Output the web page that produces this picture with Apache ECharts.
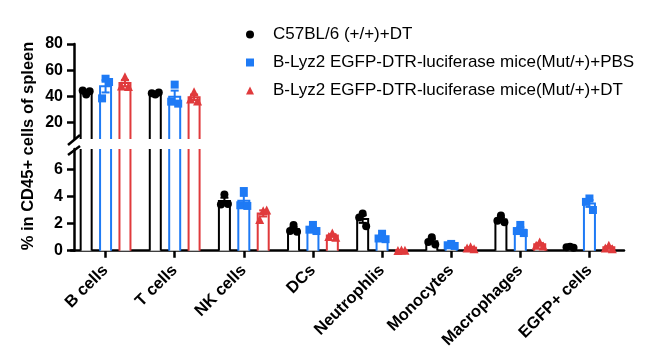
<!DOCTYPE html>
<html><head><meta charset="utf-8">
<script src="https://cdn.jsdelivr.net/npm/echarts@6/dist/echarts.min.js"></script>
<style>html,body{margin:0;padding:0;background:#fff}#c{width:645px;height:360px}</style>
</head><body><div id="c"></div>
<script>
// ---- data ----
const categories = ['B cells', 'T cells', 'NK cells', 'DCs', 'Neutrophlis', 'Monocytes', 'Macrophages', 'EGFP+ cells'];
const groupNames = ['C57BL/6 (+/+)+DT', 'B-Lyz2 EGFP-DTR-luciferase mice(Mut/+)+PBS', 'B-Lyz2 EGFP-DTR-luciferase mice(Mut/+)+DT'];
const c57Values = [[41.5, 44.5, 44.0], [41.5, 42.5, 43.0], [4.15, 3.4, 3.45], [1.9, 1.45, 1.4], [2.75, 2.45, 1.8], [1.0, 0.65, 0.45], [2.6, 2.2, 2.1], [0.3, 0.25, 0.22]];
const pbsValues = [[53.5, 38.5, 51], [49, 36, 34.5], [4.4, 3.35, 3.3], [1.9, 1.55, 1.45], [1.25, 0.9, 0.85], [0.5, 0.4, 0.35], [1.9, 1.45, 1.3], [3.85, 3.6, 3.0]];
const dtValues = [[55, 48, 47.5], [43.5, 38, 36.5], [2.95, 2.3, 3.0], [1.3, 1.05, 1.0], [0.05, 0.02, 0.04], [0.3, 0.2, 0.15], [0.65, 0.4, 0.35], [0.4, 0.2, 0.15]];
const yTicksTop = [20, 40, 60, 80];
const yTicksBottom = [0, 2, 4, 6];
const breakValue = 7.5;
const topMax = 80;
const yAxisTitle = '% in CD45+ cells of spleen';

// ---- style / layout ----
const groups = [c57Values, pbsValues, dtValues];
const colors = ['#000000', '#1E7AF5', '#E03A3C'];
const symbols = ['circle', 'rect', 'triangle'];
const symbolSizes = [8, 8, 9];
const FONT = 'Arial, "Liberation Sans", Helvetica, sans-serif';
const BAR_W = 11, BAR_GAP = 8.4;
const pitch = BAR_W + BAR_GAP;
const groupOffsets = [-pitch, 0, pitch];
const jitter = [0, -3.5, 3.5];
const GL = 71, GR = 21;
const G0 = {top: 44, height: 95};
const G1 = {top: 149, height: 101.7};

function mean(a) { return a.reduce((s, v) => s + v, 0) / a.length; }
function sem(a) {
  const m = mean(a);
  const v = a.reduce((s, x) => s + (x - m) * (x - m), 0) / (a.length - 1);
  return Math.sqrt(v) / Math.sqrt(a.length);
}

const series = [];
for (let g = 0; g < 3; g++) {
  const reps = groups[g];
  const means = reps.map(mean);
  const sems = reps.map(sem);
  for (let gi = 0; gi < 2; gi++) {
    const inGrid = (i) => gi === 0 ? means[i] > breakValue : means[i] <= breakValue;
    // hollow bars (open where the axis is broken)
    series.push({
      type: 'custom', xAxisIndex: gi, yAxisIndex: gi, silent: true, z: 2,
      data: means.map((m, i) => [i, m]).filter(d => gi === 1 || inGrid(d[0])),
      renderItem: (params, api) => {
        const i = api.value(0), m = api.value(1);
        const cs = params.coordSys;
        const top = api.coord([i, m]);
        const base = api.coord([i, 0]);
        const x = top[0] + groupOffsets[g];
        const hw = BAR_W / 2;
        let yTop = top[1], yBase = base[1];
        const clipped = yTop < cs.y;
        if (clipped) yTop = cs.y;
        if (yBase > cs.y + cs.height) yBase = cs.y + cs.height;
        const st = {stroke: colors[g], lineWidth: 2, fill: null};
        const children = [
          {type: 'rect', shape: {x: x - hw, y: yTop, width: BAR_W, height: yBase - yTop}, style: {fill: '#fff'}}
        ];
        if (clipped) {
          children.push({type: 'line', shape: {x1: x - hw, y1: yTop, x2: x - hw, y2: yBase}, style: st});
          children.push({type: 'line', shape: {x1: x + hw, y1: yTop, x2: x + hw, y2: yBase}, style: st});
        } else {
          children.push({type: 'polyline', shape: {points: [[x - hw, yBase], [x - hw, yTop], [x + hw, yTop], [x + hw, yBase]]}, style: st});
        }
        return {type: 'group', children};
      }
    });
    series.push({
      type: 'custom', xAxisIndex: gi, yAxisIndex: gi, silent: true, z: 3,
      data: means.map((m, i) => [i, m, sems[i]]).filter(d => inGrid(d[0])),
      renderItem: (params, api) => {
        const i = api.value(0), m = api.value(1), s = api.value(2);
        const hi = api.coord([i, m + s]);
        const lo = api.coord([i, Math.max(m - s, 0)]);
        const x = hi[0] + groupOffsets[g];
        const st = {stroke: colors[g], lineWidth: 2};
        return {type: 'group', children: [
          {type: 'line', shape: {x1: x, y1: lo[1], x2: x, y2: hi[1]}, style: st},
          {type: 'line', shape: {x1: x - 4, y1: hi[1], x2: x + 4, y2: hi[1]}, style: st},
          {type: 'line', shape: {x1: x - 4, y1: lo[1], x2: x + 4, y2: lo[1]}, style: st}
        ]};
      }
    });
    const pts = [];
    reps.forEach((arr, i) => {
      if (!inGrid(i)) return;
      arr.forEach((v, k) => pts.push({value: [i, v], symbolOffset: [groupOffsets[g] + jitter[k], 0]}));
    });
    series.push({
      type: 'scatter', name: groupNames[g], xAxisIndex: gi, yAxisIndex: gi,
      symbol: symbols[g], symbolSize: symbolSizes[g],
      itemStyle: {color: colors[g], opacity: 1}, z: 4, silent: true,
      data: pts
    });
  }
}

const axisLine = {show: true, lineStyle: {color: '#000', width: 2.5}};
const chart = echarts.init(document.getElementById('c'), null, {renderer: 'canvas'});
chart.setOption({
  animation: false,
  backgroundColor: '#fff',
  grid: [
    {left: GL, right: GR, top: G0.top, height: G0.height},
    {left: GL, right: GR, top: G1.top, height: G1.height}
  ],
  xAxis: [
    {type: 'category', gridIndex: 0, data: categories, show: false},
    {type: 'category', gridIndex: 1, data: categories,
      axisLine: axisLine,
      axisTick: {show: true, alignWithLabel: true, length: 7, lineStyle: {color: '#000', width: 2.5}},
      axisLabel: {rotate: 45, margin: 17, color: '#000', fontSize: 16.5, fontWeight: 'bold', fontFamily: FONT, interval: 0}
    }
  ],
  yAxis: [
    {type: 'value', gridIndex: 0, min: breakValue, max: topMax, offset: -3,
      axisLine: axisLine, splitLine: {show: false},
      axisTick: {show: true, length: 7, lineStyle: {color: '#000', width: 2.5}, customValues: yTicksTop},
      axisLabel: {customValues: yTicksTop, margin: 11, color: '#000', fontSize: 16, fontWeight: 'bold', fontFamily: FONT}
    },
    {type: 'value', gridIndex: 1, min: 0, max: breakValue, offset: -3,
      axisLine: axisLine, splitLine: {show: false},
      axisTick: {show: true, length: 7, lineStyle: {color: '#000', width: 2.5}, customValues: yTicksBottom},
      axisLabel: {customValues: yTicksBottom, margin: 11, color: '#000', fontSize: 16, fontWeight: 'bold', fontFamily: FONT}
    }
  ],
  legend: {
    orient: 'vertical', left: 241, top: 21, itemWidth: 8, itemHeight: 8, itemGap: 11,
    selectedMode: false,
    textStyle: {fontSize: 17, lineHeight: 17, color: '#000', fontFamily: FONT, padding: [0, 0, 0, 14]},
    data: groupNames.map((n, g) => ({name: n, icon: symbols[g], itemStyle: {color: colors[g]}}))
  },
  graphic: [
    {type: 'text', x: 28, y: 146, rotation: Math.PI / 2,
      style: {text: yAxisTitle, font: 'bold 16.5px ' + FONT, fill: '#000', align: 'center', verticalAlign: 'middle'}},
    {type: 'line', shape: {x1: 68, y1: 145, x2: 80, y2: 135}, style: {stroke: '#000', lineWidth: 2.5}},
    {type: 'line', shape: {x1: 68, y1: 155, x2: 80, y2: 146}, style: {stroke: '#000', lineWidth: 2.5}}
  ],
  series: series
});
</script>
</body></html>
